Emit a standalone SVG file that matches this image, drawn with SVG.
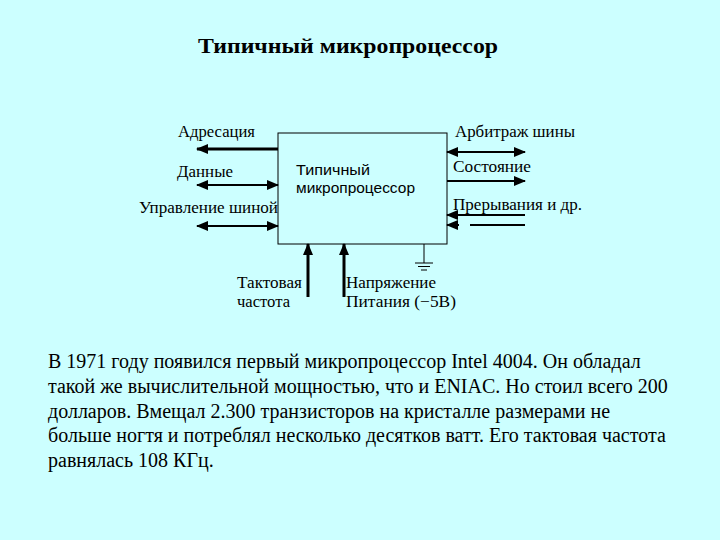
<svg xmlns="http://www.w3.org/2000/svg" width="720" height="540" viewBox="0 0 720 540">
<style>
.lbl{font-family:"Liberation Serif","Times New Roman",serif;font-size:16px;fill:#000}
.inner{font-family:"Liberation Sans",Arial,sans-serif;font-size:14px;fill:#000}
.para{font-family:"Liberation Serif","Times New Roman",serif;font-size:20px;fill:#000}
.title{font-family:"Liberation Serif","Times New Roman",serif;font-size:21px;font-weight:bold;fill:#000}
.w{stroke:#000;stroke-width:2;fill:none}
.t{stroke:#000;stroke-width:3;fill:none}
</style>
<defs>
<marker id="ah" markerUnits="userSpaceOnUse" markerWidth="12" markerHeight="10" refX="11" refY="5" orient="auto-start-reverse" viewBox="0 0 12 10">
<path d="M0,0 L12,5 L0,10 Z" fill="#000"/>
</marker>
</defs>
<rect width="720" height="540" fill="#CCFFFF"/>
<text class="title" x="198" y="53" textLength="300" lengthAdjust="spacingAndGlyphs">Типичный микропроцессор</text>
<g id="cpu">
<rect x="278" y="133" width="169" height="111" fill="none" stroke="#000" stroke-width="1"/>
<text class="inner" x="296" y="175" textLength="74" lengthAdjust="spacingAndGlyphs">Типичный</text>
<text class="inner" x="296" y="193" textLength="119" lengthAdjust="spacingAndGlyphs">микропроцессор</text>
</g>
<g id="ground">
<path d="M424,244 V263 M415,263 H433 M418,266.5 H430 M421,270 H427" stroke="#000" stroke-width="1" fill="none"/>
</g>
<g id="labels">
<text class="lbl" x="178" y="137" textLength="77" lengthAdjust="spacingAndGlyphs">Адресация</text>
<text class="lbl" x="177" y="177" textLength="56" lengthAdjust="spacingAndGlyphs">Данные</text>
<text class="lbl" x="139" y="213" textLength="139" lengthAdjust="spacingAndGlyphs">Управление шиной</text>
<text class="lbl" x="455" y="137" textLength="120" lengthAdjust="spacingAndGlyphs">Арбитраж шины</text>
<text class="lbl" x="453" y="172" textLength="78" lengthAdjust="spacingAndGlyphs">Состояние</text>
<text class="lbl" x="453" y="210" textLength="129" lengthAdjust="spacingAndGlyphs">Прерывания и др.</text>
<text class="lbl" x="237" y="288" textLength="65" lengthAdjust="spacingAndGlyphs">Тактовая</text>
<text class="lbl" x="237" y="307" textLength="53" lengthAdjust="spacingAndGlyphs">частота</text>
<text class="lbl" x="346" y="288" textLength="90" lengthAdjust="spacingAndGlyphs">Напряжение</text>
<text class="lbl" x="346" y="307" textLength="110" lengthAdjust="spacingAndGlyphs">Питания (−5В)</text>
</g>
<g id="connectors">
<line class="t" x1="278" y1="149" x2="197" y2="149" marker-end="url(#ah)"/>
<line class="w" x1="197" y1="185" x2="278" y2="185" marker-start="url(#ah)" marker-end="url(#ah)"/>
<line class="w" x1="197" y1="226" x2="278" y2="226" marker-start="url(#ah)" marker-end="url(#ah)"/>
<line class="w" x1="447" y1="152" x2="525" y2="152" marker-start="url(#ah)" marker-end="url(#ah)"/>
<line class="w" x1="447" y1="181" x2="525" y2="181" marker-end="url(#ah)"/>
<line class="w" x1="525" y1="215" x2="447" y2="215" marker-end="url(#ah)"/>
<path class="w" d="M525,225 H470 M459,225 H447" marker-end="url(#ah)"/>
<line class="t" x1="308" y1="297" x2="308" y2="244" marker-end="url(#ah)"/>
<line class="t" x1="344" y1="297" x2="344" y2="244" marker-end="url(#ah)"/>
</g>
<g id="paragraph">
<text class="para" x="48" y="368">В 1971 году появился первый микропроцессор Intel 4004. Он обладал</text>
<text class="para" x="48" y="393">такой же вычислительной мощностью, что и ENIAC. Но стоил всего 200</text>
<text class="para" x="48" y="418">долларов. Вмещал 2.300 транзисторов на кристалле размерами не</text>
<text class="para" x="48" y="442">больше ногтя и потреблял несколько десятков ватт. Его тактовая частота</text>
<text class="para" x="48" y="467">равнялась 108 КГц.</text>
</g>
</svg>
